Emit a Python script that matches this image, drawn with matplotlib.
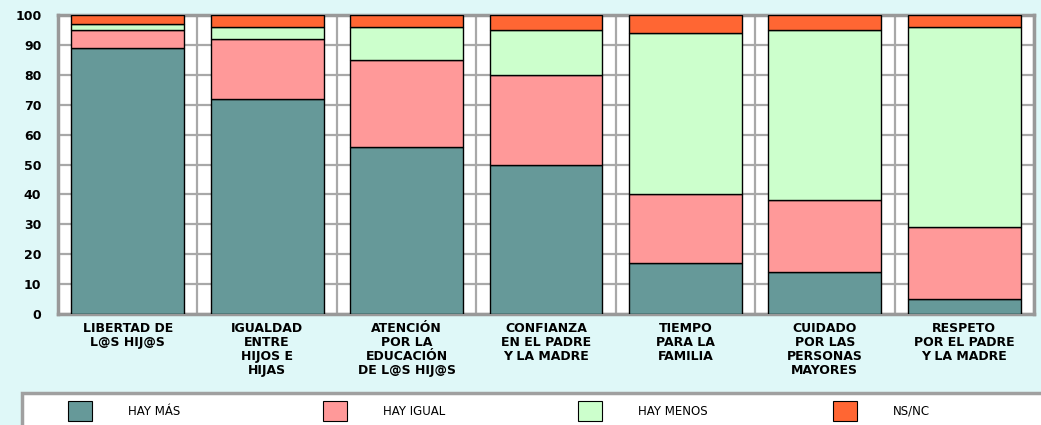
import matplotlib
matplotlib.use("Agg")
import matplotlib.pyplot as plt
from matplotlib.patches import Patch, Rectangle
import numpy as np

categories = [
    "LIBERTAD DE\nL@S HIJ@S",
    "IGUALDAD\nENTRE\nHIJOS E\nHIJAS",
    "ATENCIÓN\nPOR LA\nEDUCACIÓN\nDE L@S HIJ@S",
    "CONFIANZA\nEN EL PADRE\nY LA MADRE",
    "TIEMPO\nPARA LA\nFAMILIA",
    "CUIDADO\nPOR LAS\nPERSONAS\nMAYORES",
    "RESPETO\nPOR EL PADRE\nY LA MADRE",
]
hay_mas = [89, 72, 56, 50, 17, 14, 5]
hay_igual = [6, 20, 29, 30, 23, 24, 24]
hay_menos = [2, 4, 11, 15, 54, 57, 67]
ns_nc = [3, 4, 4, 5, 6, 5, 4]
series_labels = ["HAY MÁS", "HAY IGUAL", "HAY MENOS", "NS/NC"]
colors = ["#669999", "#FF9999", "#CCFFCC", "#FF6633"]
yticks = list(range(0, 101, 10))

bg = "#DFF8F8"
grid_c = "#A8A8A8"
W, H = 1041, 425

fig = plt.figure(figsize=(W/100, H/100), dpi=100, facecolor=bg)
ax = fig.add_axes([58/W, 1-314/H, 976/W, 299/H])
ax.set_facecolor("white")

x = np.arange(len(categories))
series = [hay_mas, hay_igual, hay_menos, ns_nc]
bottom = np.zeros(len(categories))
for vals, c in zip(series, colors):
    ax.bar(x, vals, bottom=bottom, width=0.81, color=c, edgecolor="black",
           linewidth=1.0, zorder=3)
    bottom += np.array(vals)

ax.set_xlim(-0.5, len(categories) - 0.5)
ax.set_ylim(0, 100)
ax.set_yticks(yticks)
ax.set_yticklabels([str(t) for t in yticks], fontsize=9, fontweight="bold")
ax.set_xticks(x)
ax.set_xticklabels(categories, fontsize=9, fontweight="bold", linespacing=1.1)
ax.set_xticks(np.arange(len(categories) + 1) - 0.5, minor=True)
ax.tick_params(axis="both", which="both", length=0)
ax.tick_params(axis="y", pad=12)
ax.tick_params(axis="x", pad=6)
ax.yaxis.grid(True, color=grid_c, linewidth=1.6, zorder=0)
ax.xaxis.grid(True, which="minor", color=grid_c, linewidth=1.6, zorder=0)
ax.xaxis.grid(False, which="major")
for s in ax.spines.values():
    s.set_color("#999999")
    s.set_linewidth(2.5)

# legend box
fig.patches.append(Rectangle((22/W, -0.05), 1.1, 1-393/H+0.05,
                             transform=fig.transFigure, facecolor="white",
                             edgecolor="#A0A0A0", linewidth=2.5, zorder=0))
leg_x = [68, 323, 578, 833]
for xi, c, lab in zip(leg_x, colors, series_labels):
    h = Patch(facecolor=c, edgecolor="black", linewidth=0.8)
    lg = fig.legend([h], [lab], loc="center left",
                    bbox_to_anchor=(xi/W, 1-411/H), fontsize=8.5, frameon=False,
                    handlelength=2.0, handleheight=2.1, handletextpad=3.1,
                    borderpad=0, borderaxespad=0)

fig.savefig("out.png", dpi=100, facecolor=bg)
